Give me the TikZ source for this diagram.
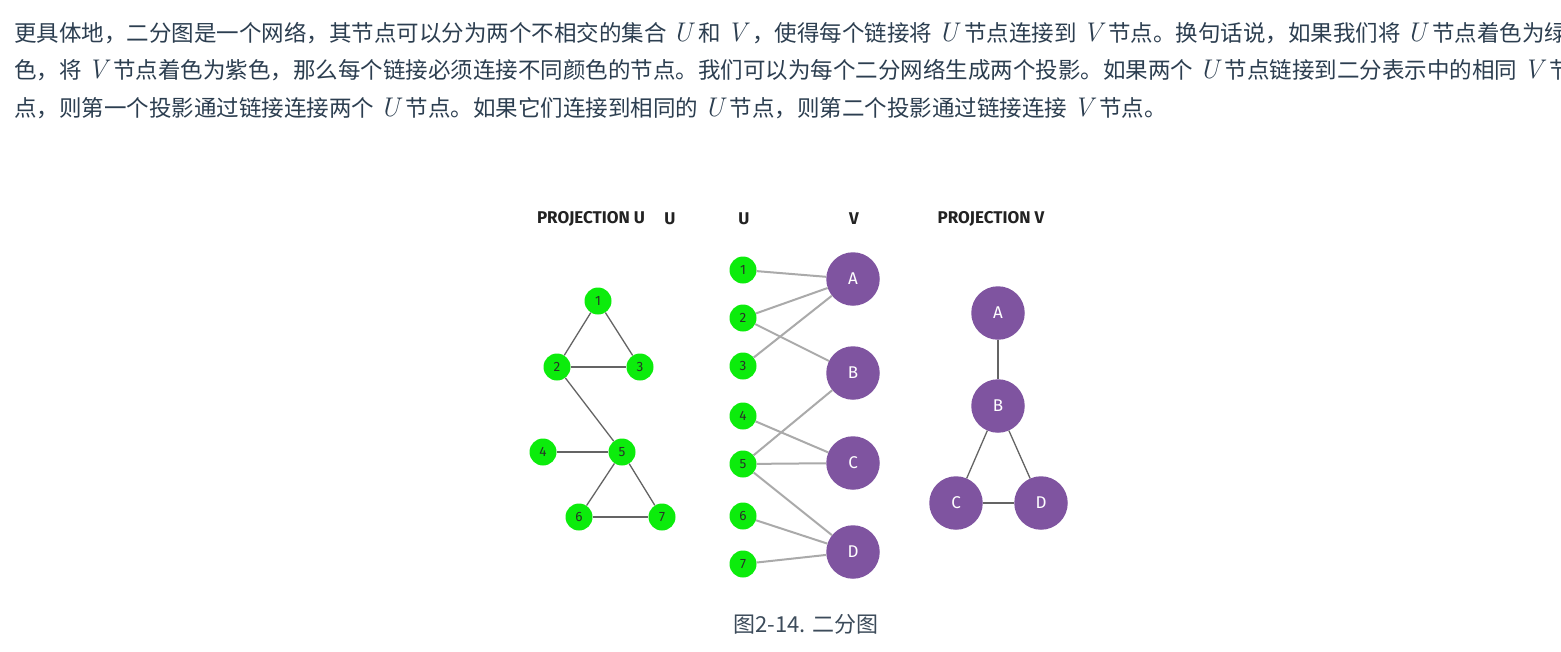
\documentclass[tikz,border=0pt]{standalone}
\usepackage{fontspec}
\newfontfamily\cjk{Noto Sans CJK SC}
\newfontfamily\din{Fira Sans}
\newfontfamily\lmr{Latin Modern Roman}
\definecolor{txt}{RGB}{44,62,80}
\definecolor{capc}{RGB}{60,75,90}
\definecolor{ttlc}{RGB}{34,34,34}
\definecolor{ugreen}{RGB}{12,236,12}
\definecolor{vpurple}{RGB}{127,84,160}
\definecolor{darkedge}{RGB}{100,100,100}
\definecolor{lightedge}{RGB}{170,170,170}
\definecolor{numc}{RGB}{40,50,40}
\newcommand\mv[1]{\hspace{6pt}{\lmr\itshape\fontsize{27}{30}\selectfont #1}\hspace{6pt}}
\tikzset{
  para/.style={anchor=base west, inner sep=0pt, text=txt, font=\cjk\fontsize{22.5}{37.5}\selectfont},
  capt/.style={anchor=base, inner sep=0pt, text=capc, font=\cjk\fontsize{22}{30}\selectfont},
  ttl/.style={inner sep=0pt, text=ttlc, font=\din\bfseries\fontsize{17}{20}\selectfont},
  unode/.style={circle, fill=ugreen, minimum size=27pt, inner sep=0pt, text=numc, font=\din\fontsize{13.5}{15}\selectfont},
  vnode/.style={circle, fill=vpurple, minimum size=53.5pt, inner sep=0pt, text=white, font=\din\fontsize{17}{20}\selectfont},
  darkline/.style={draw=darkedge, line width=1.3pt},
  lightline/.style={draw=lightedge, line width=2pt}
}
\begin{document}
\begin{tikzpicture}[x=1pt,y=-1pt]
\useasboundingbox (0,0) rectangle (1561,651);
\clip (0,0) rectangle (1561,651);
\fill[white] (0,0) rectangle (1561,651);

% paragraph
\node[para] (p1) at (14,41) {更具体地，二分图是一个网络，其节点可以分为两个不相交的集合\mv{U}和\mv{V}，使得每个链接将\mv{U}节点连接到\mv{V}节点。换句话说，如果我们将\mv{U}节点着色为绿};
\node[para] (p2) at (14,78.5) {色，将\mv{V}节点着色为紫色，那么每个链接必须连接不同颜色的节点。我们可以为每个二分网络生成两个投影。如果两个\mv{U}节点链接到二分表示中的相同\mv{V}节};
\node[para] (p3) at (14,116) {点，则第一个投影通过链接连接两个\mv{U}节点。如果它们连接到相同的\mv{U}节点，则第二个投影通过链接连接\mv{V}节点。};

% titles
\node[ttl] (t1) at (591,219) {PROJECTION U};
\node[ttl] (t2) at (670,219) {U};
\node[ttl] (t3) at (744,219) {U};
\node[ttl] (t4) at (854,219) {V};
\node[ttl] (t5) at (991,219) {PROJECTION V};

% projection U
\node[unode] (pu1) at (598,301) {1};
\node[unode] (pu2) at (557,367) {2};
\node[unode] (pu3) at (640,367) {3};
\node[unode] (pu4) at (543,452) {4};
\node[unode] (pu5) at (622,452) {5};
\node[unode] (pu6) at (579,517) {6};
\node[unode] (pu7) at (662,517) {7};
\draw[darkline] (pu1) -- (pu2);
\draw[darkline] (pu1) -- (pu3);
\draw[darkline] (pu2) -- (pu3);
\draw[darkline] (pu2) -- (pu5);
\draw[darkline] (pu4) -- (pu5);
\draw[darkline] (pu5) -- (pu6);
\draw[darkline] (pu5) -- (pu7);
\draw[darkline] (pu6) -- (pu7);

% bipartite
\node[unode] (u1) at (743,270) {1};
\node[unode] (u2) at (743,318) {2};
\node[unode] (u3) at (743,366) {3};
\node[unode] (u4) at (743,416) {4};
\node[unode] (u5) at (743,464) {5};
\node[unode] (u6) at (743,516) {6};
\node[unode] (u7) at (743,564) {7};
\node[vnode] (va) at (853,279) {A};
\node[vnode] (vb) at (853,373) {B};
\node[vnode] (vc) at (853,463) {C};
\node[vnode] (vd) at (853,552) {D};
\draw[lightline] (u1) -- (va);
\draw[lightline] (u2) -- (va);
\draw[lightline] (u3) -- (va);
\draw[lightline] (u2) -- (vb);
\draw[lightline] (u5) -- (vb);
\draw[lightline] (u4) -- (vc);
\draw[lightline] (u5) -- (vc);
\draw[lightline] (u5) -- (vd);
\draw[lightline] (u6) -- (vd);
\draw[lightline] (u7) -- (vd);

% projection V
\node[vnode] (pa) at (998,313) {A};
\node[vnode] (pb) at (998,406) {B};
\node[vnode] (pc) at (956,503) {C};
\node[vnode] (pd) at (1041,503) {D};
\draw[darkline] (pa) -- (pb);
\draw[darkline] (pb) -- (pc);
\draw[darkline] (pb) -- (pd);
\draw[darkline] (pc) -- (pd);

% caption
\node[capt] (cap) at (806,632) {图2-14. 二分图};
\end{tikzpicture}
\end{document}
